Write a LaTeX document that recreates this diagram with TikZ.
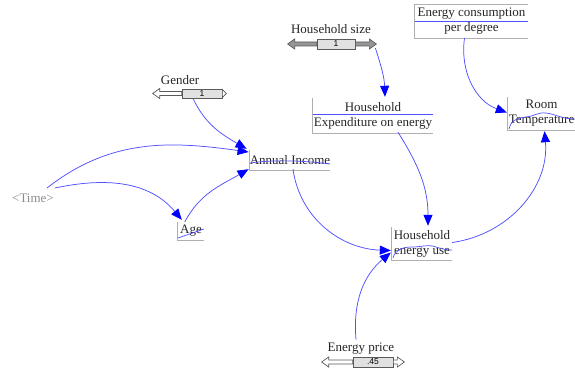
\documentclass[tikz,border=0pt]{standalone}
\usepackage{fontspec}
\setmainfont{Liberation Serif}
\newfontfamily\valfont{Liberation Sans}
\usetikzlibrary{arrows.meta}
\definecolor{linkblue}{RGB}{80,80,255}
\definecolor{framegrey}{RGB}{175,175,175}
\definecolor{timegrey}{RGB}{140,140,140}
\definecolor{slidefill}{RGB}{225,225,225}
\definecolor{slidedraw}{RGB}{90,90,90}
\definecolor{knobgrey}{RGB}{150,150,150}
\tikzset{
  var/.style={inner sep=0pt, align=center, font=\fontsize{13}{15}\selectfont, text=black!85},
  lbl/.style={inner sep=0pt, font=\fontsize{13}{15}\selectfont, text=black!85},
  framed/.style={framegrey, line width=0.8pt},
  link/.style={linkblue, line width=0.75pt, -{Triangle[length=11pt,width=9pt,fill=blue,color=blue]}},
  strike/.style={linkblue, line width=0.7pt},
  slidebox/.style={draw=slidedraw, fill=slidefill, line width=0.7pt, inner sep=0pt,
                   font=\valfont\fontsize{8.5}{9}\selectfont},
  openarr/.style={draw=slidedraw, fill=white, line width=0.7pt, line join=miter},
  greyarr/.style={draw=slidedraw, fill=knobgrey, line width=0.7pt, line join=miter},
}
\begin{document}
\begin{tikzpicture}[x=1pt,y=-1pt]
\useasboundingbox (0,0) rectangle (575,374);

% ---- variables ----
\node[var, minimum width=113pt, minimum height=33pt] (ecd) at (471.5,21.5) {Energy consumption\\per degree};
\node[var, minimum width=120pt, minimum height=35pt] (hex) at (373,115.5) {Household\\Expenditure on energy};
\node[var, minimum width=67pt, minimum height=33pt] (rt) at (541.5,113.5) {Room\\Temperature};
\node[var, minimum width=80pt, minimum height=20pt] (ai) at (290,160) {Annual Income};
\node[var, minimum width=26pt, minimum height=18pt] (age) at (191,231) {Age};
\node[var, minimum width=60pt, minimum height=33pt] (hue) at (422,243.5) {Household\\energy use};
\node[lbl, text=timegrey] (time) at (33,198) {<Time>};

% frames
\draw[framed] (ecd.north east) -- (ecd.north west) -- (ecd.south west) -- (ecd.south east);
\draw[framed] (hex.north west) |- (hex.south east);
\draw[framed] (rt.north west) |- (rt.south east);
\draw[framed] (ai.north west) |- (ai.south east);
\draw[framed] (age.north west) |- (age.south east);
\draw[framed] (hue.north west) |- (hue.south east);

% lines running through the labels
\draw[strike] (ecd.west) -- (ecd.east);
\draw[strike] ([yshift=1.5pt]hex.west) -- ([yshift=1.5pt]hex.east);
\draw[strike] (509,129) .. controls (511,121) and (516,118) .. (526,117)
  .. controls (535,116) and (538,112) .. (546,113)
  .. controls (555,114) and (562,119) .. (575,119);
\draw[strike] (250,163) .. controls (270,160) and (300,160) .. (330,164);
\draw[strike] (178,238) -- (204,229);
\draw[strike] (393,258) .. controls (395,250) and (402,247) .. (412,247)
  .. controls (422,247) and (428,244) .. (436,247)
  .. controls (442,249) and (447,250) .. (452,250);

% ---- sliders ----
\node[lbl] (gender) at (180,80) {Gender};
\node[slidebox, minimum width=40pt, minimum height=9pt] (gs) at (202,93.5) {1};
\filldraw[openarr] (gs.west) ++(0,-2) -- ++(-22,0) -- ++(0,-3) -- ++(-7,5) -- ++(7,5) -- ++(0,-3) -- ++(22,0) -- cycle;
\filldraw[openarr] (gs.east) ++(0,-4) -- ++(4,4) -- ++(-4,4) -- cycle;

\node[lbl] (hsize) at (331,29) {Household size};
\node[slidebox, minimum width=38pt, minimum height=10pt] (hs) at (336,44) {1};
\filldraw[greyarr] (hs.west) ++(0,-2) -- ++(-22,0) -- ++(0,-3) -- ++(-7,5) -- ++(7,5) -- ++(0,-3) -- ++(22,0) -- cycle;
\filldraw[greyarr] (hs.east) ++(0,-2) -- ++(14,0) -- ++(0,-3) -- ++(7,5) -- ++(-7,5) -- ++(0,-3) -- ++(-14,0) -- cycle;

\node[lbl] (eprice) at (361,349) {Energy price};
\node[slidebox, minimum width=40pt, minimum height=10pt] (eps) at (373,362) {.45};
\filldraw[openarr] (eps.west) ++(0,-2) -- ++(-24,0) -- ++(0,-3) -- ++(-7,5) -- ++(7,5) -- ++(0,-3) -- ++(24,0) -- cycle;
\filldraw[openarr] (eps.east) ++(0,-2) -- ++(4,0) -- ++(0,-3) -- ++(7,5) -- ++(-7,5) -- ++(0,-3) -- ++(-4,0) -- cycle;

% ---- connectors (yshift is upward) ----
\draw[link] ([xshift=-9pt]gs.south) to[out=-65,in=150] ([xshift=-3pt,yshift=1pt]ai.north west);
\draw[link] ([xshift=14pt,yshift=10pt]time.center) to[out=38,in=172] ([xshift=-1pt,yshift=8pt]ai.west);
\draw[link] ([xshift=22pt,yshift=10pt]time.center) to[out=12,in=130] ([xshift=4pt,yshift=2pt]age.north west);
\draw[link] ([xshift=7pt]age.north west) to[out=62,in=-150] ([xshift=-1pt,yshift=1pt]ai.south west);
\draw[link] ([yshift=-4pt]hs.east) ++(20,0) to[out=-72,in=92] ([xshift=12pt,yshift=1pt]hex.north);
\draw[link] ([xshift=-7pt]ecd.south) to[out=-98,in=160] ([xshift=-1pt,yshift=1pt]rt.west);
\draw[link] ([xshift=25pt,yshift=1pt]hex.south) to[out=-58,in=90] ([xshift=6pt,yshift=1pt]hue.north);
\draw[link] ([xshift=3pt,yshift=1pt]ai.south) to[out=-82,in=178] ([xshift=-1pt,yshift=-7pt]hue.west);
\draw[link] ([xshift=-17pt,yshift=17pt]eps.north) to[out=95,in=-140] ([xshift=-1pt,yshift=-9pt]hue.west);
\draw[link] ([yshift=1pt]hue.east) to[out=8,in=-85] ([xshift=3pt,yshift=-1pt]rt.south);
\end{tikzpicture}
\end{document}
